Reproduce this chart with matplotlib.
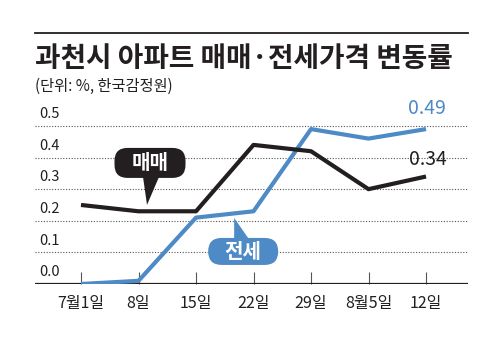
import matplotlib
matplotlib.use("Agg")
import matplotlib.pyplot as plt
import matplotlib.transforms as mtransforms
from matplotlib.patches import FancyBboxPatch, Polygon
from matplotlib.lines import Line2D

plt.rcParams['font.family'] = ['Noto Sans CJK KR', 'DejaVu Sans']

categories = ["7월1일", "8일", "15일", "22일", "29일", "8월5일", "12일"]
maemae = [0.25, 0.23, 0.23, 0.44, 0.42, 0.30, 0.34]
jeonse = [0.00, 0.01, 0.21, 0.23, 0.49, 0.46, 0.49]
yticks = [0.0, 0.1, 0.2, 0.3, 0.4, 0.5]
title = "과천시 아파트 매매·전세가격 변동률"
subtitle = "(단위: %, 한국감정원)"

BLACK = "#231f20"
BLUE = "#4d8ac6"

fig = plt.figure(figsize=(5.0, 3.44), dpi=100)
W, H = 500, 344
ax = fig.add_axes([35 / W, 1 - 284 / H, 433 / W, 184 / H])
x = list(range(len(categories)))
ax.set_xlim(-0.8, 6.73)
ax.set_ylim(0, 0.582)
for s in ax.spines.values():
    s.set_visible(False)
ax.set_yticks([])
ax.set_xticks(x)
ax.set_xticklabels(categories, fontsize=11.5, color=BLACK)
ax.tick_params(axis='x', direction='in', length=9, width=0.8, color='#555555', pad=8)

# baseline
ax.axhline(0, color=BLACK, lw=1.6, zorder=3)
# grid lines + y labels
for v in yticks:
    if v > 0:
        ax.axhline(v, color='#555555', lw=0.8, ls=(0, (1, 1.5)), zorder=1)
    ax.annotate(f"{v:.1f}", xy=(0, v), xycoords=('axes fraction', 'data'),
                xytext=(3, 8.5), textcoords='offset points', ha='left', va='center',
                fontsize=10.5, color=BLACK)

ax.plot(x, jeonse, color=BLUE, lw=3.0, solid_capstyle='butt', zorder=4)
ax.plot(x, maemae, color=BLACK, lw=3.0, solid_capstyle='butt', zorder=5)

ax.annotate(f"{jeonse[-1]:.2f}", xy=(x[-1], jeonse[-1]), xytext=(1, 15),
            textcoords='offset points', ha='center', va='center',
            fontsize=14, color=BLUE)
ax.annotate(f"{maemae[-1]:.2f}", xy=(x[-1], maemae[-1]), xytext=(1, 12.5),
            textcoords='offset points', ha='center', va='center',
            fontsize=14, color=BLACK)


def bubble(cx, cy, w, h, r, tail, label, color):
    trans = fig.dpi_scale_trans + mtransforms.ScaledTranslation(cx, cy, ax.transData)
    box = FancyBboxPatch((-w / 2, -h / 2), w, h,
                         boxstyle=f"round,pad=0,rounding_size={r}",
                         fc=color, ec='none', transform=trans, clip_on=False, zorder=6)
    ax.add_patch(box)
    ax.add_patch(Polygon(tail, closed=True, fc=color, ec='none', transform=trans,
                         clip_on=False, zorder=6))
    ax.text(0, 0, label, transform=trans, ha='center', va='center', color='white',
            fontsize=14.5, fontweight='bold', zorder=7)


bubble(1.2, 0.383, 0.71, 0.30, 0.13,
       [(-0.07, -0.14), (0.09, -0.14), (-0.03, -0.42)], "매매", BLACK)
bubble(2.82, 0.103, 0.70, 0.27, 0.135,
       [(-0.09, 0.12), (0.06, 0.12), (-0.09, 0.335)], "전세", BLUE)

# header
fig.add_artist(Line2D([35 / W, 468 / W], [1 - 33 / H, 1 - 33 / H], color=BLACK, lw=1.3))
fig.text(35 / W, 1 - 59 / H, title, ha='left', va='center', fontsize=20,
         fontweight='black', color=BLACK)
fig.text(35 / W, 1 - 86 / H, subtitle, ha='left', va='center', fontsize=11,
         color=BLACK)

fig.savefig("out.png", dpi=100)
